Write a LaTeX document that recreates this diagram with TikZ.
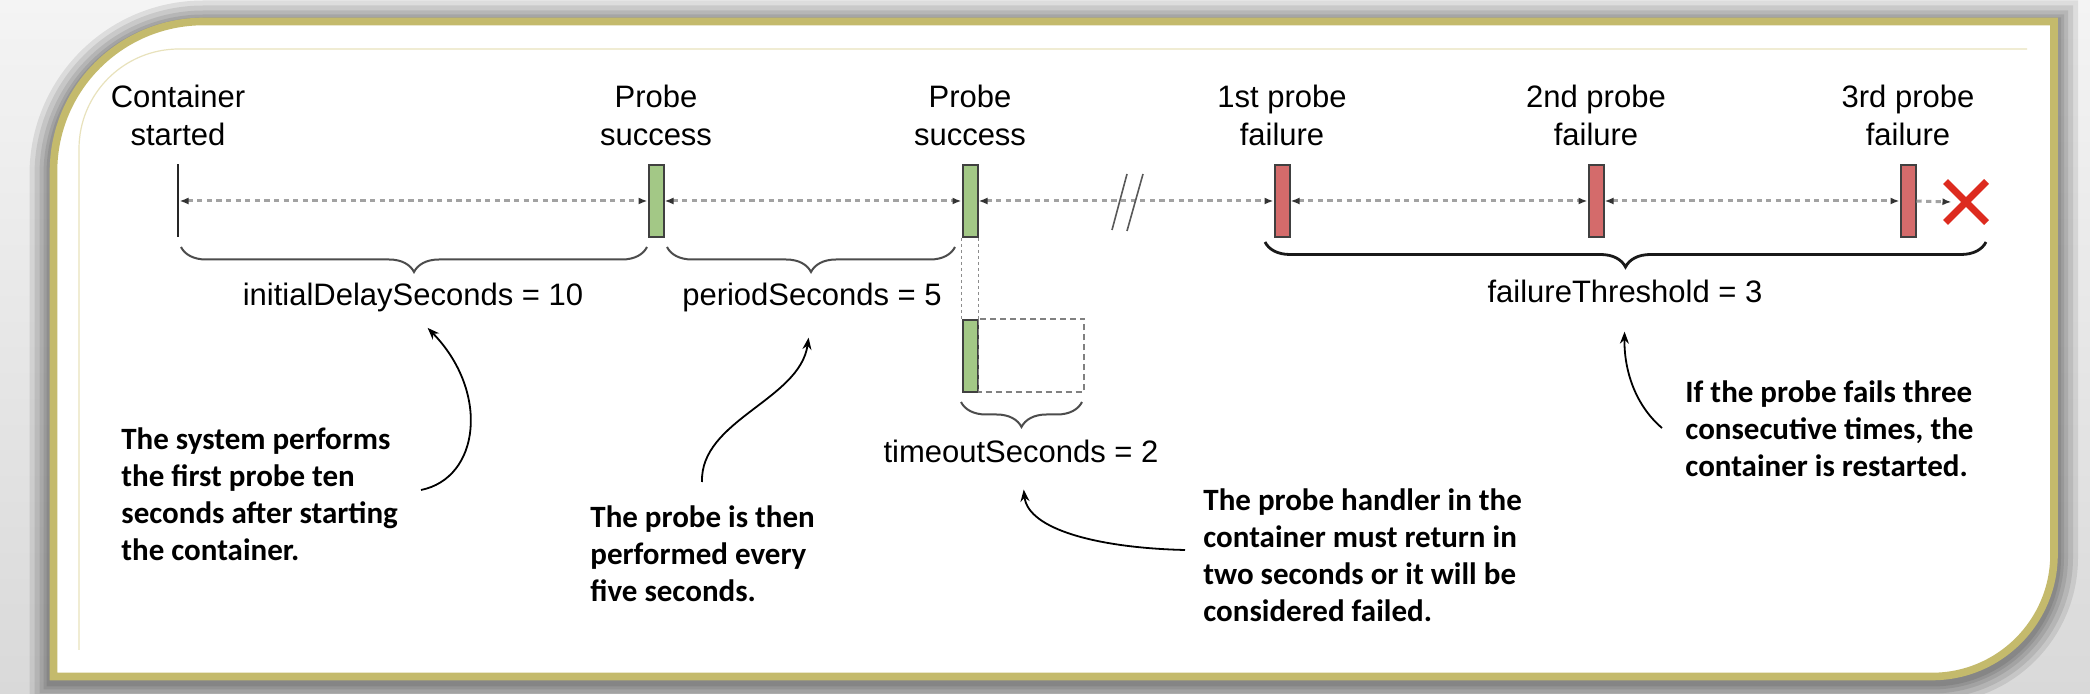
\documentclass[tikz,border=0pt]{standalone}
\usepackage{fontspec}
\usepackage{xcolor}
\usepackage{tikz}
\setmainfont{Liberation Sans}
\newfontfamily\notefont{Carlito}
\usetikzlibrary{arrows.meta, decorations.pathreplacing, shapes.misc}

\definecolor{paperGray}{HTML}{F4F4F4}
\definecolor{floorGray}{HTML}{D9D9D9}
\definecolor{gold}{HTML}{C4BA6C}
\definecolor{paleGold}{HTML}{E8E2BC}
\definecolor{okGreen}{HTML}{A3C886}
\definecolor{failRed}{HTML}{D46B6B}
\definecolor{crossRed}{HTML}{DD2B1F}
\definecolor{dashGray}{HTML}{A2A2A2}

\newcommand{\cardoutline}{(53.5,676.5) -- (53.5,171.5)
  arc[start angle=180, end angle=90, radius=75pt] -- (2054,21.5) -- (2054,554.5)
  arc[start angle=0, end angle=-90, radius=61pt] -- cycle}

\tikzset{
  probebar/.style={draw=black!75, line width=1pt, minimum width=7.5pt,
    minimum height=36pt, inner sep=0pt},
  okbar/.style={probebar, fill=okGreen},
  failbar/.style={probebar, fill=failRed},
  startmark/.style={fill=black!85, minimum width=1.1pt, minimum height=36.5pt, inner sep=0pt},
  toplbl/.style={align=center, font=\fontsize{15.5}{19}\selectfont, inner sep=0pt, anchor=base},
  bracelbl/.style={font=\fontsize{15.5}{19}\selectfont, inner sep=0pt, anchor=base},
  note/.style={align=left, font=\notefont\bfseries\fontsize{15.5}{18.5}\selectfont,
    inner sep=0pt, anchor=base west},
  timeline/.style={dashGray, line width=1.5pt, dash pattern=on 2.6pt off 2.2pt},
  interval/.style={timeline, {Latex[length=4.5pt,width=3.5pt,color=black!80]}-{Latex[length=4.5pt,width=3.5pt,color=black!80]}},
  gapbrace/.style={decorate, decoration={brace, mirror, amplitude=12.5pt}, line width=1pt, black!70},
  callout/.style={-{Stealth[length=6pt,width=4.5pt]}, line width=0.9pt},
}

\begin{document}
\begin{tikzpicture}[x=0.5pt, y=-0.5pt]
  \useasboundingbox (0,0) rectangle (2090,694);
  % card with shadow
  \shade[top color=paperGray, bottom color=floorGray] (0,0) rectangle (2090,694);
  \foreach \w in {24,19,14,10,7}
    \draw[black, opacity=0.09, line width=\w pt, yshift=-1.5pt] \cardoutline;
  \fill[white] \cardoutline;
  \draw[gold, line width=3.8pt] \cardoutline;
  \draw[paleGold, line width=0.6pt] (79,650) -- (79,149)
    arc[start angle=180, end angle=90, radius=50pt] -- (2027,49);

  % probes on the time line
  \node[startmark] (start) at (178,201) {};
  \node[okbar] (ok1) at (656,201) {};
  \node[okbar] (ok2) at (970,201) {};
  \node[failbar] (fail1) at (1282,201) {};
  \node[failbar] (fail2) at (1596,201) {};
  \node[failbar] (fail3) at (1908,201) {};
  \node[cross out, draw=crossRed, line width=3.5pt, minimum size=17pt, inner sep=0pt] (kill) at (1966,202) {};

  \node[toplbl] (startlbl) at (178,146) {Container\\started};
  \node[toplbl] (ok1lbl) at (656,146) {Probe\\success};
  \node[toplbl] (ok2lbl) at (970,146) {Probe\\success};
  \node[toplbl] (fail1lbl) at (1282,146) {1st probe\\failure};
  \node[toplbl] (fail2lbl) at (1596,146) {2nd probe\\failure};
  \node[toplbl] (fail3lbl) at (1908,146) {3rd probe\\failure};

  \draw[interval] (start.east) -- (ok1.west);
  \draw[interval] (ok1.east) -- (ok2.west);
  \draw[interval] (ok2.east) -- (fail1.west);
  \draw[interval] (fail1.east) -- (fail2.west);
  \draw[interval] (fail2.east) -- (fail3.west);
  \draw[timeline, -{Latex[length=4.5pt,width=3.5pt,color=black!80]}] (fail3.east) -- ([xshift=3pt]kill.west);
  \draw[black!65, line width=0.8pt] (1112,230) -- (1127,174) (1127,231) -- (1143,174);

  % timeout window
  \node[okbar] (ok2b) at (970,356) {};
  \coordinate (waitend) at (1084,392);
  \draw[black!45, line width=0.5pt, dash pattern=on 1.5pt off 1.5pt] (ok2.south west) -- (ok2b.north west);
  \draw[black!45, line width=0.5pt, dash pattern=on 1.5pt off 1.5pt] (ok2.south east) -- (ok2b.north east);
  \draw[black!50, line width=0.6pt, dash pattern=on 3pt off 2pt] (ok2b.north east) rectangle (waitend);

  % braces and their values
  \draw[gapbrace] (181,247) -- (647,247);
  \draw[gapbrace] (667,247) -- (955,247);
  \draw[gapbrace, black!90, line width=1.4pt] (1265,242) -- (1986,242);
  \draw[gapbrace] (961,402) -- (1082,402);
  \node[bracelbl] (initlbl) at (413,306) {initialDelaySeconds = 10};
  \node[bracelbl] (periodlbl) at (812,306) {periodSeconds = 5};
  \node[bracelbl] (threshlbl) at (1625,303) {failureThreshold = 3};
  \node[bracelbl] (timeoutlbl) at (1021,463) {timeoutSeconds = 2};

  % notes
  \node[note] (note1) at (121,561) {The system performs\\the first probe ten\\seconds after starting\\the container.};
  \node[note] (note2) at (590,602) {The probe is then\\performed every\\five seconds.};
  \node[note] (note3) at (1203,622) {The probe handler in the\\container must return in\\two seconds or it will be\\considered failed.};
  \node[note] (note4) at (1685,477) {If the probe fails three\\consecutive times, the\\container is restarted.};

  \coordinate (n1tail) at (421,490);
  \coordinate (n2tail) at (702,482);
  \coordinate (n3tail) at (1185,550);
  \coordinate (n4tail) at (1662,428);
  \draw[callout, shorten >=10.5pt] (n1tail) .. controls (480,478) and (490,392) .. (initlbl.south);
  \draw[callout, shorten >=12.5pt] (n2tail) .. controls (700,420) and (800,400) .. (periodlbl.south);
  \draw[callout, shorten >=13pt] (n3tail) .. controls (1100,548) and (1028,530) .. (timeoutlbl.south);
  \draw[callout, shorten >=14pt] (n4tail) .. controls (1635,405) and (1624,370) .. (threshlbl.south);
\end{tikzpicture}
\end{document}
